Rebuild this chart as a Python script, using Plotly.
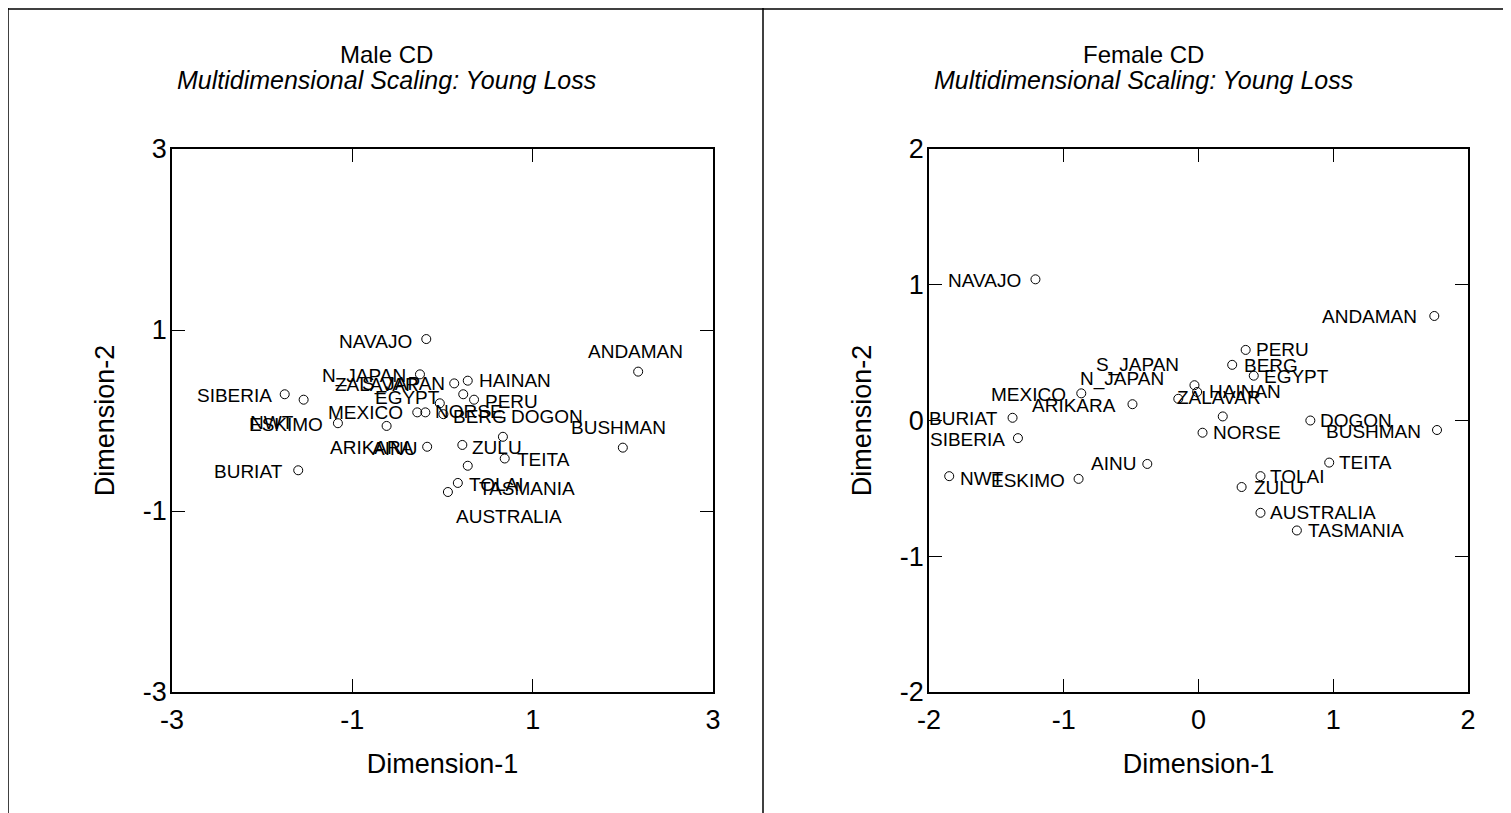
import plotly.graph_objects as go

# ---------------- data ----------------
male_labels = ["NAVAJO", "ANDAMAN", "BUSHMAN", "SIBERIA", "NWT", "ESKIMO", "BURIAT",
               "N_JAPAN", "S_JAPAN", "HAINAN", "EGYPT", "PERU", "MEXICO", "NORSE",
               "ZALAVAR", "BERG", "AINU", "ARIKARA", "ZULU", "DOGON", "TEITA",
               "TASMANIA", "TOLAI", "AUSTRALIA"]
male_dim1 = [-0.18, 2.17, 2.00, -1.75, -1.54, -1.16, -1.60,
             -0.25, 0.13, 0.28, 0.23, 0.35, -0.28, -0.19,
             -0.03, 0.01, -0.62, -0.17, 0.22, 0.67, 0.69,
             0.28, 0.17, 0.06]
male_dim2 = [0.90, 0.54, -0.30, 0.29, 0.23, -0.03, -0.55,
             0.51, 0.41, 0.44, 0.29, 0.23, 0.09, 0.09,
             0.19, 0.07, -0.06, -0.29, -0.27, -0.18, -0.42,
             -0.50, -0.69, -0.79]

female_labels = ["NAVAJO", "ANDAMAN", "PERU", "BERG", "EGYPT", "S_JAPAN", "HAINAN",
                 "N_JAPAN", "MEXICO", "ARIKARA", "ZALAVAR", "BURIAT", "SIBERIA",
                 "NORSE", "DOGON", "BUSHMAN", "TEITA", "TOLAI", "ZULU", "NWT",
                 "ESKIMO", "AINU", "AUSTRALIA", "TASMANIA"]
female_dim1 = [-1.21, 1.75, 0.35, 0.25, 0.41, -0.03, -0.01,
               -0.15, -0.87, -0.49, 0.18, -1.38, -1.34,
               0.03, 0.83, 1.77, 0.97, 0.46, 0.32, -1.85,
               -0.89, -0.38, 0.46, 0.73]
female_dim2 = [1.04, 0.77, 0.52, 0.41, 0.33, 0.26, 0.21,
               0.16, 0.20, 0.12, 0.03, 0.02, -0.13,
               -0.09, 0.00, -0.07, -0.31, -0.41, -0.49, -0.41,
               -0.43, -0.32, -0.68, -0.81]

male_ticks = [-3, -1, 1, 3]
male_ticktext = ["-3", "-1", "1", "3"]
female_ticks = [-2, -1, 0, 1, 2]
female_ticktext = ["-2", "-1", "0", "1", "2"]

# ---------------- label placement styles (anchor, xshift px, down px) ----------------
male_label_style = {
    "NAVAJO": ("right", -13, 2), "ANDAMAN": ("center", -3, -20), "BUSHMAN": ("center", -4, -20),
    "SIBERIA": ("right", -12, 1), "NWT": ("center", -32, 23), "ESKIMO": ("right", -14, 1),
    "BURIAT": ("right", -14, 1), "N_JAPAN": ("right", -13, 2), "S_JAPAN": ("right", -8, 1),
    "HAINAN": ("left", 10, 0), "EGYPT": ("right", -22, 3), "PERU": ("left", 10, 2),
    "MEXICO": ("right", -13, 0), "NORSE": ("left", 9, -1), "ZALAVAR": ("center", -63, -19),
    "BERG": ("left", 9, 2), "AINU": ("center", 8, 23), "ARIKARA": ("right", -12, 1),
    "ZULU": ("left", 9, 3), "DOGON": ("center", 44, -20), "TEITA": ("left", 11, 1),
    "TASMANIA": ("center", 59, 23), "TOLAI": ("left", 10, 2), "AUSTRALIA": ("center", 61, 24),
}
female_label_style = {
    "NAVAJO": ("right", -13, 1), "ANDAMAN": ("right", -16, 1), "PERU": ("left", 9, 0),
    "BERG": ("left", 11, 1), "EGYPT": ("left", 9, 1), "S_JAPAN": ("center", -57, -20),
    "HAINAN": ("left", 11, 0), "N_JAPAN": ("center", -56, -20), "MEXICO": ("right", -14, 1),
    "ARIKARA": ("right", -15, 1), "ZALAVAR": ("center", -4, -19), "BURIAT": ("right", -14, 1),
    "SIBERIA": ("right", -12, 1), "NORSE": ("left", 9, 0), "DOGON": ("left", 9, 0),
    "BUSHMAN": ("right", -15, 1), "TEITA": ("left", 9, 0), "TOLAI": ("left", 9, 0),
    "ZULU": ("left", 11, 0), "NWT": ("left", 10, 2), "ESKIMO": ("right", -13, 2),
    "AINU": ("right", -10, 0), "AUSTRALIA": ("left", 9, 0), "TASMANIA": ("left", 10, 0),
}

FONT = "Liberation Sans, Arial, Helvetica, sans-serif"
W, H = 1511, 813
OFF = 8  # page body margin offset


def px(xs):
    return max(0.0, (xs - OFF) / W)


def py(ys):
    return min(1.0, 1 - (ys - OFF) / H)


fig = go.Figure()

marker = dict(symbol="circle-open", size=9, color="black", line=dict(width=1, color="black"))
fig.add_trace(go.Scatter(x=male_dim1, y=male_dim2, mode="markers", marker=marker,
                         xaxis="x", yaxis="y", showlegend=False, hoverinfo="text",
                         text=male_labels))
fig.add_trace(go.Scatter(x=female_dim1, y=female_dim2, mode="markers", marker=marker,
                         xaxis="x2", yaxis="y2", showlegend=False, hoverinfo="text",
                         text=female_labels))

annotations = []
for labels, xs, ys, style, xr, yr in [
    (male_labels, male_dim1, male_dim2, male_label_style, "x", "y"),
    (female_labels, female_dim1, female_dim2, female_label_style, "x2", "y2"),
]:
    for lab, xv, yv in zip(labels, xs, ys):
        anchor, dx, dy = style[lab]
        annotations.append(dict(x=xv, y=yv, xref=xr, yref=yr, text=lab, showarrow=False,
                                xanchor=anchor, yanchor="middle", xshift=dx, yshift=-dy,
                                font=dict(family=FONT, size=19, color="black"),
                                borderpad=0))

# titles
for cx, title in [(386, "Male CD"), (1143, "Female CD")]:
    annotations.append(dict(x=px(cx), y=py(55), xref="paper", yref="paper", text=title,
                            showarrow=False, xanchor="center", yanchor="middle",
                            font=dict(family=FONT, size=24, color="black")))
    annotations.append(dict(x=px(cx), y=py(80), xref="paper", yref="paper",
                            text="<i>Multidimensional Scaling: Young Loss</i>",
                            showarrow=False, xanchor="center", yanchor="middle",
                            font=dict(family=FONT, size=25, color="black")))

axis_common = dict(showgrid=False, zeroline=False, showline=True, linecolor="black",
                   linewidth=1.5, mirror="allticks", ticks="inside", ticklen=13,
                   tickwidth=1.2, tickcolor="black", automargin=False,
                   tickfont=dict(family=FONT, size=27, color="black"),
                   title_font=dict(family=FONT, size=27, color="black"))

fig.update_layout(
    width=W, height=H, autosize=False,
    margin=dict(l=0, r=0, t=0, b=0, pad=0, autoexpand=False),
    paper_bgcolor="white", plot_bgcolor="white",
    xaxis=dict(axis_common, domain=[px(172), px(713)], range=[-3, 3], tickvals=male_ticks,
               ticktext=male_ticktext, anchor="y", ticklabelstandoff=3,
               title=dict(text="Dimension-1", standoff=20)),
    yaxis=dict(axis_common, domain=[py(692), py(149)], range=[-3, 3], tickvals=male_ticks,
               ticktext=male_ticktext, anchor="x", ticklabelstandoff=-2,
               title=dict(text="Dimension-2", standoff=20)),
    xaxis2=dict(axis_common, domain=[px(929), px(1468)], range=[-2, 2], tickvals=female_ticks,
                ticktext=female_ticktext, anchor="y2", ticklabelstandoff=3,
                title=dict(text="Dimension-1", standoff=20)),
    yaxis2=dict(axis_common, domain=[py(692), py(149)], range=[-2, 2], tickvals=female_ticks,
                ticktext=female_ticktext, anchor="x2", ticklabelstandoff=-2,
                title=dict(text="Dimension-2", standoff=20)),
    annotations=annotations,
    shapes=[
        dict(type="line", xref="paper", yref="paper", x0=px(8), x1=px(8), y0=0, y1=py(6),
             line=dict(color="black", width=1.5)),
        dict(type="line", xref="paper", yref="paper", x0=px(763), x1=px(763), y0=0, y1=py(6),
             line=dict(color="black", width=1.5)),
        dict(type="line", xref="paper", yref="paper", x0=px(8), x1=1, y0=py(9), y1=py(9),
             line=dict(color="black", width=1.5)),
    ],
)

fig.write_html("out.html")
